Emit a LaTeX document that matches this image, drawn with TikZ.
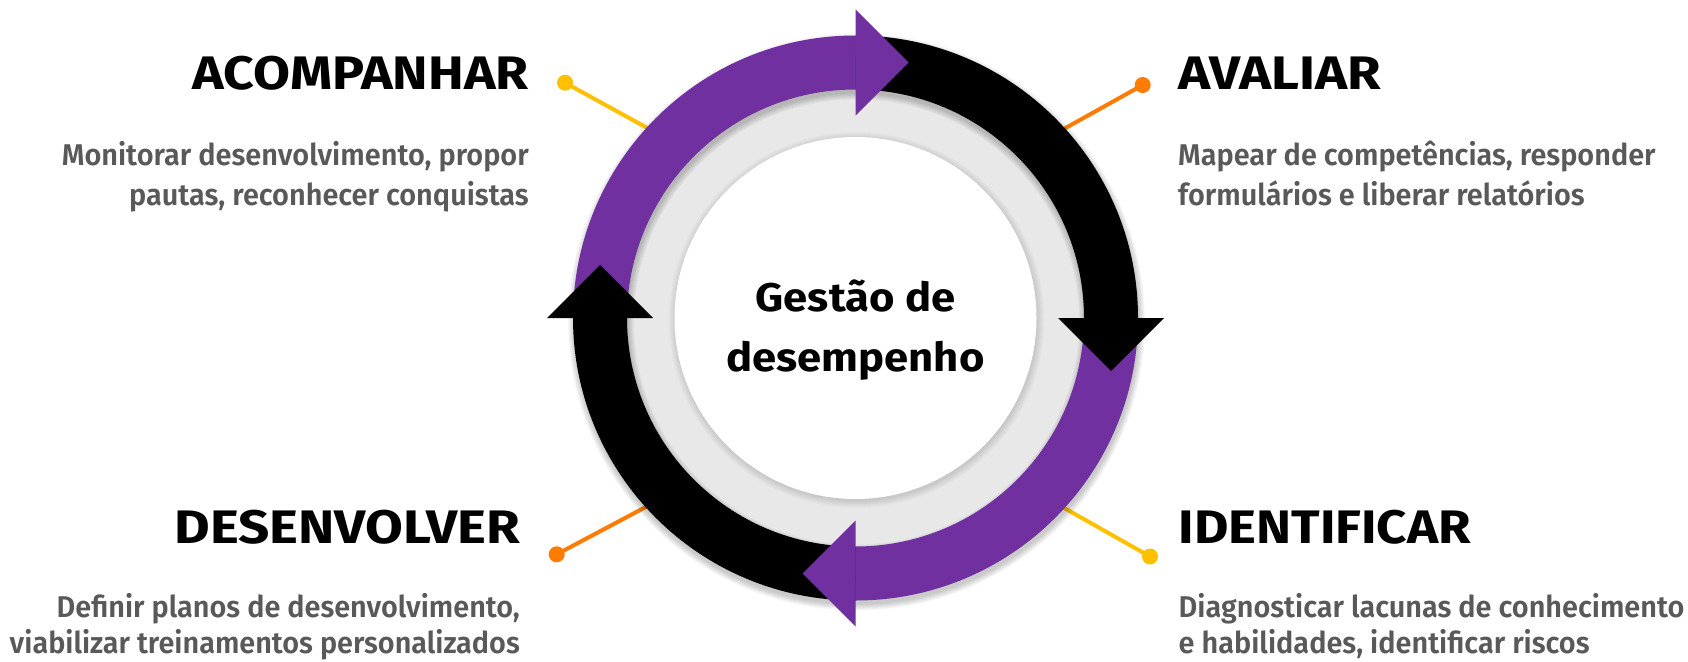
\documentclass[tikz,border=0pt]{standalone}
\usepackage{fontspec}
\setmainfont{Fira Sans}
\newfontfamily\semib{Fira Sans SemiBold}
\usetikzlibrary{calc}
\definecolor{ringpurple}{HTML}{7030A0}
\definecolor{dotyellow}{HTML}{FFC000}
\definecolor{dotorange}{HTML}{FF7C00}
\definecolor{descgray}{HTML}{595959}
\definecolor{discgray}{HTML}{E8E8E8}
\newcommand\ringseg[3]{%
  \fill[#3] (#1:282.5) arc[start angle=#1, end angle=#2, radius=282.5]
    -- (#2:228.5) arc[start angle=#2, end angle=#1, radius=228.5] -- cycle;}
\newcommand\ringarrow[2]{%
  \fill[#2] (#1:202.5) -- (#1:308.5) -- ($(#1:255.5)+({#1-90}:53)$) -- cycle;}
\newcommand\wx[2]{\scalebox{#1}[1]{#2}}
\begin{document}
\begin{tikzpicture}[x=1pt,y=-1pt,
  heading/.style={inner sep=0pt, font=\bfseries\fontsize{47}{50}\selectfont, text=black},
  desc/.style={inner sep=0pt, font=\semib\fontsize{30}{37.5}\selectfont, text=descgray},
  center/.style={inner sep=0pt, font=\bfseries\fontsize{40}{50}\selectfont, text=black},
  dot/.style={circle, fill=#1, inner sep=0pt, minimum size=16pt},
  leader/.style={draw=#1, line width=4pt},
]
\useasboundingbox (0,0) rectangle (1688,661);
\fill[white] (0,0) rectangle (1688,661);

% leader lines and dots
\coordinate (eTL) at (680,146);
\coordinate (eTR) at (1035,145);
\coordinate (eBL) at (675,491.5);
\coordinate (eBR) at (1035,491.5);
\node[dot=dotyellow] (dTL) at (565,82.7) {};
\node[dot=dotorange] (dTR) at (1142.7,85) {};
\node[dot=dotorange] (dBL) at (556.7,554.3) {};
\node[dot=dotyellow] (dBR) at (1150,556.5) {};
\draw[leader=dotyellow] (dTL.center) -- (eTL);
\draw[leader=dotorange] (dTR.center) -- (eTR);
\draw[leader=dotorange] (dBL.center) -- (eBL);
\draw[leader=dotyellow] (dBR.center) -- (eBR);

\begin{scope}[shift={(855.5,318)}, yscale=-1]
  % gray disc
  \fill[discgray] (0,0) circle[radius=262];
  % white disc soft shadow
  \foreach \k in {1,...,8}
    \fill[black, opacity=0.015] (1,-2) circle[radius=180+\k];
  \fill[white] (0,0) circle[radius=181];
  % ring shadow
  \foreach \k in {0,...,6}
    \draw[black, opacity=0.03, line width={54+2*\k}] (1,-4) circle[radius=255.5];
  % ring segments
  \ringseg{180}{90}{ringpurple}
  \ringseg{90}{0}{black}
  \ringseg{0}{-90}{ringpurple}
  \ringseg{-90}{-180}{black}
  % arrowheads
  \ringarrow{90}{ringpurple}
  \ringarrow{0}{black}
  \ringarrow{-90}{ringpurple}
  \ringarrow{180}{black}
\end{scope}

% center text
\node[center, anchor=base] (c1) at (855.5,311.4) {\wx{1.09}{Gestão de}};
\node[center, anchor=base] (c2) at (855.5,371.3) {\wx{1.09}{desempenho}};

% headings
\node[heading, anchor=base east] (hTL) at (529,89.5) {\wx{1.14}{ACOMPANHAR}};
\node[heading, anchor=base west] (hTR) at (1178,89.5) {\wx{1.16}{AVALIAR}};
\node[heading, anchor=base east] (hBL) at (520.5,543) {\wx{1.165}{DESENVOLVER}};
\node[heading, anchor=base west] (hBR) at (1178.5,543) {\wx{1.125}{IDENTIFICAR}};

% descriptions
\node[desc, anchor=base east] (tl1) at (529,165.5) {\wx{0.963}{Monitorar desenvolvimento, propor}};
\node[desc, anchor=base east] (tl2) at (529,205.5) {\wx{0.963}{pautas, reconhecer conquistas}};
\node[desc, anchor=base west] (tr1) at (1178,165.5) {\wx{0.962}{Mapear de competências, responder}};
\node[desc, anchor=base west] (tr2) at (1178,205.5) {\wx{0.962}{formulários e liberar relatórios}};
\node[desc, anchor=base east] (bl1) at (520,617.5) {\wx{0.96}{Definir planos de desenvolvimento,}};
\node[desc, anchor=base east] (bl2) at (520,653) {\wx{0.96}{viabilizar treinamentos personalizados}};
\node[desc, anchor=base west] (br1) at (1178.5,617.5) {\wx{0.962}{Diagnosticar lacunas de conhecimento}};
\node[desc, anchor=base west] (br2) at (1178.5,653) {\wx{0.962}{e habilidades, identificar riscos}};
\end{tikzpicture}
\end{document}
